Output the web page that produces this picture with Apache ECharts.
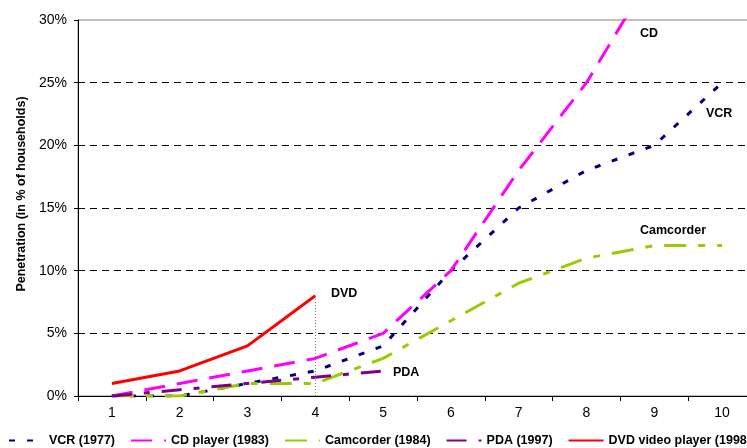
<!DOCTYPE html>
<html>
<head>
<meta charset="utf-8">
<script src="https://cdn.jsdelivr.net/npm/echarts@6/dist/echarts.min.js"></script>
<style>html,body{margin:0;padding:0;background:#fff}#c{width:747px;height:448px}</style>
</head>
<body>
<div id="c"></div>
<script>
var categories = ['1','2','3','4','5','6','7','8','9','10'];
var vcr = [0, 0, 1, 2, 4, 10, 15, 18, 20, 25];
var cd = [0, 1, 2, 3, 5, 10, 18, 25, 34];
var camcorder = [0, 0, 1, 1, 3, 6, 9, 11, 12, 12];
var pda = [0, 0.5, 1, 1.5, 2];
var dvd = [1, 2, 4, 8];
var seriesNames = ['VCR (1977)', 'CD player (1983)', 'Camcorder (1984)', 'PDA (1997)', 'DVD video player (1998)'];
var yTicks = [0, 5, 10, 15, 20, 25, 30];
var labels = ['DVD', 'PDA', 'CD', 'VCR', 'Camcorder'];

var font = 'Liberation Sans, Arial, sans-serif';
var chart = echarts.init(document.getElementById('c'), null, {renderer: 'canvas'});

function line(name, data, color, dash, width, extra) {
  var s = {
    name: name, type: 'line', data: data, symbol: 'none', showSymbol: false, smooth: false,
    lineStyle: {color: color, width: width, type: dash, cap: 'butt'},
    itemStyle: {color: color},
    emphasis: {disabled: true},
    animation: false
  };
  if (extra) for (var k in extra) s[k] = extra[k];
  return s;
}

var labelStyle = {fill: '#000', font: 'bold 12.5px ' + font};

var option = {
  animation: false,
  grid: {left: 78, top: 20, width: 678, height: 376, outerBoundsMode: 'none', containLabel: false, show: true, borderColor: '#808080', borderWidth: 1, backgroundColor: 'transparent'},
  legend: {
    left: 8, top: 434, width: 1400, padding: 0, itemWidth: 35, itemHeight: 14, itemGap: 15,
    itemStyle: {opacity: 0, borderWidth: 0},
    textStyle: {fontFamily: font, fontWeight: 'bold', fontSize: 12.5, color: '#000'},
    data: seriesNames
  },
  xAxis: {
    type: 'category', data: categories, boundaryGap: true,
    axisLine: {lineStyle: {color: '#000', width: 1}},
    axisTick: {show: true, length: 5, lineStyle: {color: '#000'}},
    axisLabel: {fontFamily: font, fontSize: 14, color: '#000', margin: 10}
  },
  yAxis: {
    type: 'value', min: yTicks[0], max: yTicks[yTicks.length - 1], interval: 5,
    axisLine: {show: true, lineStyle: {color: '#000', width: 1}},
    axisTick: {show: true, length: 4, lineStyle: {color: '#000'}},
    axisLabel: {fontFamily: font, fontSize: 14, color: '#000', margin: 11, formatter: '{value}%'},
    splitLine: {show: true, showMinLine: false, showMaxLine: false, lineStyle: {color: '#000', width: 1, type: [7, 5]}}
  },
  graphic: [
    {type: 'text', x: 22, y: 194, rotation: Math.PI / 2, style: {text: 'Penetration (in % of households)', fill: '#000', font: 'bold 12.5px ' + font, align: 'center', verticalAlign: 'middle'}},
    {type: 'text', x: 331, y: 294, style: Object.assign({text: labels[0], verticalAlign: 'middle'}, labelStyle)},
    {type: 'text', x: 393, y: 373, style: Object.assign({text: labels[1], verticalAlign: 'middle'}, labelStyle)},
    {type: 'text', x: 640, y: 34, style: Object.assign({text: labels[2], verticalAlign: 'middle'}, labelStyle)},
    {type: 'text', x: 706, y: 114, style: Object.assign({text: labels[3], verticalAlign: 'middle'}, labelStyle)},
    {type: 'text', x: 640, y: 231, style: Object.assign({text: labels[4], verticalAlign: 'middle'}, labelStyle)}
  ],
  series: [
    line(seriesNames[0], vcr, '#000080', [6, 12], 3),
    line(seriesNames[1], cd, '#FF00FF', [21, 12], 3),
    line(seriesNames[2], camcorder, '#99CC00', [22, 12, 7, 12], 3),
    line(seriesNames[3], pda, '#800080', [20, 12, 6, 12], 3),
    line(seriesNames[4], dvd, '#FF0000', 'solid', 3, {
      markLine: {
        silent: true, symbol: 'none', label: {show: false},
        lineStyle: {color: '#808080', width: 1, type: [1, 2]},
        data: [[{xAxis: categories[3], yAxis: 0}, {xAxis: categories[3], yAxis: dvd[3]}]]
      }
    })
  ]
};
chart.setOption(option);
</script>
</body>
</html>
